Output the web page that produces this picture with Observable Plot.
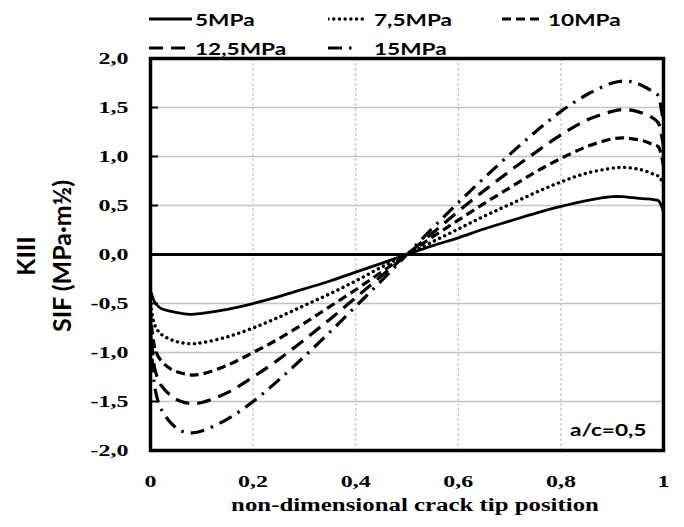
<!DOCTYPE html>
<html><head><meta charset="utf-8">
<script src="https://cdn.jsdelivr.net/npm/d3@7"></script>
<script src="https://cdn.jsdelivr.net/npm/@observablehq/plot@0.6"></script>
<style>
body{margin:0;background:#fff;}
#wrap{position:relative;width:684px;height:527px;overflow:hidden;background:#fff;}
.ov{position:absolute;white-space:nowrap;color:#000;font-weight:bold;line-height:1;}
.sans{font-family:Lato,"Open Sans",sans-serif;}
.serif{font-family:"Liberation Serif","DejaVu Serif",serif;}
svg text{font-family:"Liberation Serif","DejaVu Serif",serif !important;}
</style></head><body><div id="wrap"></div>
<script>
// ---- data ----
const positions = [0, 0.005, 0.01, 0.02, 0.04, 0.06, 0.08, 0.1, 0.15, 0.2, 0.25, 0.3, 0.35, 0.4, 0.45, 0.5, 0.55, 0.6, 0.65, 0.7, 0.75, 0.8, 0.85, 0.9, 0.92, 0.94, 0.96, 0.98, 0.99, 0.995, 1];
const seriesNames = ["5MPa", "7,5MPa", "10MPa", "12,5MPa", "15MPa"];
const k5   = [-0.37, -0.45, -0.50, -0.55, -0.58, -0.60, -0.61, -0.60, -0.56, -0.50, -0.43, -0.35, -0.27, -0.18, -0.09, 0.00, 0.09, 0.17, 0.26, 0.34, 0.42, 0.49, 0.55, 0.59, 0.59, 0.58, 0.57, 0.56, 0.55, 0.51, 0.43];
const k75  = [-0.50, -0.66, -0.74, -0.81, -0.87, -0.90, -0.91, -0.90, -0.84, -0.75, -0.64, -0.52, -0.40, -0.27, -0.13, 0.00, 0.13, 0.26, 0.39, 0.51, 0.63, 0.74, 0.83, 0.88, 0.89, 0.88, 0.86, 0.82, 0.80, 0.77, 0.70];
const k10  = [-0.58, -0.86, -0.98, -1.08, -1.17, -1.21, -1.23, -1.22, -1.13, -1.00, -0.86, -0.70, -0.53, -0.36, -0.18, 0.00, 0.18, 0.35, 0.52, 0.68, 0.84, 0.98, 1.10, 1.18, 1.19, 1.18, 1.16, 1.12, 1.10, 1.03, 0.90];
const k125 = [-0.66, -1.05, -1.20, -1.33, -1.44, -1.50, -1.52, -1.51, -1.41, -1.25, -1.07, -0.87, -0.66, -0.44, -0.22, 0.00, 0.22, 0.44, 0.65, 0.85, 1.04, 1.22, 1.37, 1.46, 1.48, 1.47, 1.44, 1.39, 1.34, 1.25, 1.10];
const k15  = [-0.75, -1.20, -1.40, -1.57, -1.72, -1.80, -1.82, -1.80, -1.68, -1.50, -1.28, -1.04, -0.79, -0.53, -0.27, 0.00, 0.27, 0.53, 0.78, 1.02, 1.25, 1.46, 1.63, 1.75, 1.77, 1.76, 1.72, 1.66, 1.62, 1.50, 1.35];
const xTicks = [0, 0.2, 0.4, 0.6, 0.8, 1];
const yTicks = [-2, -1.5, -1, -0.5, 0, 0.5, 1, 1.5, 2];
const xTickLabels = ["0", "0,2", "0,4", "0,6", "0,8", "1"];
const yTickLabels = ["-2,0", "-1,5", "-1,0", "-0,5", "0,0", "0,5", "1,0", "1,5", "2,0"];
const xTitle = "non-dimensional crack tip position";
const yTitle1 = "KIII";
const yTitle2 = "SIF (MPa·m½)";
const note = "a/c=0,5";

// ---- styles ----
const lineStyles = [
  {dash: null, width: 2.8, cap: "butt"},
  {dash: "0.1 5.6", width: 3.4, cap: "round"},
  {dash: "9 5", width: 3.2, cap: "butt"},
  {dash: "14 8", width: 3.2, cap: "butt"},
  {dash: "14 7 2.5 7", width: 3.2, cap: "butt"}
];
const seriesValues = [k5, k75, k10, k125, k15];
const rows = seriesNames.flatMap((s, j) => positions.map((p, i) => ({series: s, pos: p, k: seriesValues[j][i]})));

const fmtX = d => xTickLabels[xTicks.indexOf(d)];
const fmtY = d => yTickLabels[yTicks.indexOf(d)];

const chart = Plot.plot({
  width: 684, height: 527,
  marginTop: 58, marginBottom: 77, marginLeft: 150, marginRight: 21,
  x: {domain: [0, 1]},
  y: {domain: [-2, 2]},
  style: {fontFamily: "Liberation Serif, DejaVu Serif, serif", fontWeight: "bold", fontSize: "17.5px", background: "white", color: "black"},
  marks: [
    Plot.gridY(yTicks.filter(d => d !== 0 && Math.abs(d) !== 2), {stroke: "#c4c4c4", strokeOpacity: 1, strokeWidth: 1.3}),
    Plot.gridX(xTicks.filter(d => d > 0 && d < 1), {stroke: "#c4c4c4", strokeOpacity: 1, strokeWidth: 1.2, strokeDasharray: "3 2"}),
    Plot.ruleY([0], {stroke: "black", strokeWidth: 2.8}),
    ...seriesNames.map((s, j) => Plot.line(rows.filter(r => r.series === s), {
      x: "pos", y: "k", curve: "catmull-rom", stroke: "black",
      strokeWidth: lineStyles[j].width,
      strokeDasharray: lineStyles[j].dash,
      strokeLinecap: lineStyles[j].cap
    })),
    Plot.axisY(yTicks, {tickSize: 0, tickPadding: 22, tickFormat: fmtY, label: null}),
    Plot.axisY(yTicks, {tickSize: 8, dx: 8, fill: "none", label: null, stroke: "black", strokeWidth: 2}),
    Plot.axisX(xTicks, {tickSize: 0, tickPadding: 24, tickFormat: fmtX, label: null}),
    Plot.frame({stroke: "black", strokeWidth: 3.5})
  ]
});
const wrap = document.getElementById("wrap");
wrap.append(chart);
chart.querySelectorAll("text").forEach(t => {
  const L = t.getComputedTextLength();
  if (L > 0) { t.setAttribute("textLength", L * 1.37); t.setAttribute("lengthAdjust", "spacingAndGlyphs"); }
});

// ---- legend ----
const legendPos = [[149, 19], [328, 19], [502, 19], [149, 48], [328, 48]];
seriesNames.forEach((s, j) => {
  const [lx, ly] = legendPos[j];
  const item = document.createElement("div");
  item.className = "ov sans";
  item.style.left = lx + "px";
  item.style.top = (ly - 10) + "px";
  item.style.height = "20px";
  item.style.display = "flex";
  item.style.alignItems = "center";
  const sw = j === 4 ? 26 : (j === 0 ? 43 : 38);
  const st = lineStyles[j];
  item.innerHTML = `<svg width="46" height="20" style="flex:none"><line x1="0" x2="${sw}" y1="10" y2="10" stroke="black" stroke-width="${st.width}" ${st.dash ? `stroke-dasharray="${st.dash}"` : ""} stroke-linecap="${st.cap}"/></svg><span style="font-size:17px;display:inline-block;transform:scaleX(1.33);transform-origin:left center">${s}</span>`;
  wrap.append(item);
});

// ---- y title ----
function rotLabel(txt, cx, cy) {
  const d = document.createElement("div");
  d.className = "ov sans";
  d.style.fontSize = "25px";
  d.style.left = cx + "px";
  d.style.top = cy + "px";
  d.style.transform = "translate(-50%,-50%) rotate(-90deg)";
  d.textContent = txt;
  wrap.append(d);
}
rotLabel(yTitle1, 25, 256);
rotLabel(yTitle2, 61, 256);

// ---- x title ----
const xt = document.createElement("div");
xt.className = "ov serif";
xt.style.fontSize = "18px";
xt.style.left = "415px";
xt.style.top = "496px";
xt.style.transform = "translateX(-50%) scaleX(1.38)";
xt.textContent = xTitle;
wrap.append(xt);

// ---- note ----
const nt = document.createElement("div");
nt.className = "ov sans";
nt.style.fontSize = "17px";
nt.style.left = "570px";
nt.style.top = "421px";
nt.style.transform = "scaleX(1.33)";
nt.style.transformOrigin = "left center";
nt.textContent = note;
wrap.append(nt);
</script></body></html>
